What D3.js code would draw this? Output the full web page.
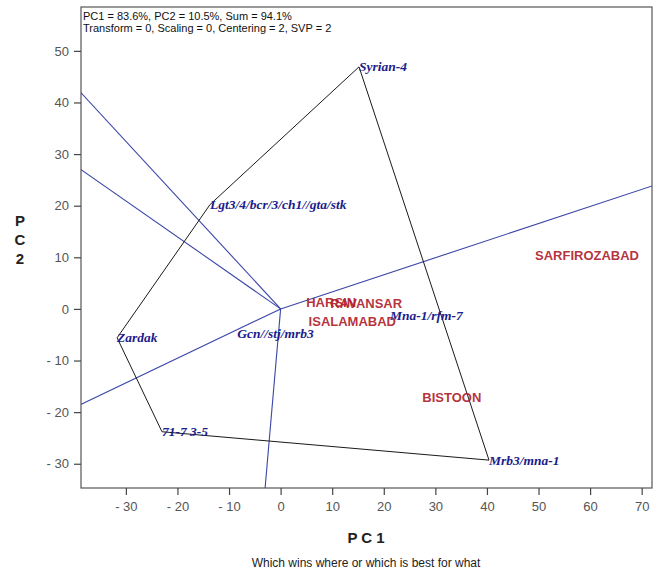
<!DOCTYPE html>
<html>
<head>
<meta charset="utf-8">
<script src="https://cdn.jsdelivr.net/npm/d3@7"></script>
<style>
  body { margin: 0; background: #fff; }
  svg { display: block; }
</style>
</head>
<body>
<svg id="chart" width="654" height="574"></svg>
<script>
// Genotype scores (PC1, PC2)
const genotypes = ["Syrian-4", "Mrb3/mna-1", "71-7 3-5", "Zardak", "Lgt3/4/bcr/3/ch1//gta/stk", "Gcn//stj/mrb3", "Mna-1/rfm-7"];
const genoPC1 = [15.2, 40.4, -23.0, -31.7, -13.7, -8.4, 21.2];
const genoPC2 = [46.9, -29.3, -23.8, -5.6, 20.2, -4.8, -1.2];

// Environment scores (PC1, PC2)
const environments = ["SARFIROZABAD", "BISTOON", "HARSIN", "RAVANSAR", "ISALAMABAD"];
const envPC1 = [59.4, 33.2, 9.8, 16.6, 13.9];
const envPC2 = [10.3, -17.1, 1.2, 1.0, -2.5];

// Convex hull vertices (indices into genotypes), in drawing order
const hull = [0, 1, 2, 3, 4];

const xTicks = [-30, -20, -10, 0, 10, 20, 30, 40, 50, 60, 70];
const yTicks = [-30, -20, -10, 0, 10, 20, 30, 40, 50];
const header = ["PC1 = 83.6%, PC2 = 10.5%, Sum = 94.1%",
                "Transform = 0, Scaling = 0, Centering = 2, SVP = 2"];

const svg = d3.select("#chart");
const L = 81, R = 652, T = 7, B = 488;
const x = d3.scaleLinear().domain([-38.7, 72.0]).range([L, R]);
const y = d3.scaleLinear().domain([-34.7, 58.5]).range([B, T]);

svg.append("defs").append("clipPath").attr("id", "plotClip")
  .append("rect").attr("x", L).attr("y", T).attr("width", R - L).attr("height", B - T);

const plot = svg.append("g").attr("clip-path", "url(#plotClip)");

// Rays from the origin, perpendicular to each side of the hull
const rays = hull.map((gi, k) => {
  const gj = hull[(k + 1) % hull.length];
  const dx = genoPC1[gj] - genoPC1[gi], dy = genoPC2[gj] - genoPC2[gi];
  // perpendicular direction pointing outward (away from the hull centre)
  let px = dy, py = -dx;
  const mx = (genoPC1[gi] + genoPC1[gj]) / 2, my = (genoPC2[gi] + genoPC2[gj]) / 2;
  if (px * mx + py * my < 0) { px = -px; py = -py; }
  const n = Math.hypot(px, py);
  return [px / n, py / n];
});

plot.selectAll("line.ray").data(rays).join("line")
  .attr("class", "ray")
  .attr("x1", x(0)).attr("y1", y(0))
  .attr("x2", d => x(d[0] * 300)).attr("y2", d => y(d[1] * 300))
  .attr("stroke", "#3a46a8").attr("stroke-width", 1.1);

// Polygon
const hullPts = hull.map(i => [x(genoPC1[i]), y(genoPC2[i])]);
plot.append("path")
  .attr("d", d3.line()(hullPts) + "Z")
  .attr("fill", "none").attr("stroke", "#1a1a1a").attr("stroke-width", 1);

// Environment labels
plot.selectAll("text.env").data(environments).join("text")
  .attr("class", "env")
  .attr("x", (d, i) => x(envPC1[i]))
  .attr("y", (d, i) => y(envPC2[i]))
  .attr("text-anchor", "middle").attr("dominant-baseline", "central")
  .attr("font-family", "Liberation Sans, Arial, sans-serif")
  .attr("font-weight", "bold").attr("font-size", 13)
  .attr("fill", "#b0202c").attr("fill-opacity", 0.92)
  .text(d => d);

// Genotype labels
plot.selectAll("text.geno").data(genotypes).join("text")
  .attr("class", "geno")
  .attr("x", (d, i) => x(genoPC1[i]))
  .attr("y", (d, i) => y(genoPC2[i]))
  .attr("dominant-baseline", "central")
  .attr("font-family", "Liberation Serif, Times New Roman, serif")
  .attr("font-weight", "bold").attr("font-style", "italic").attr("font-size", 13.5)
  .attr("fill", "#1c1c8a")
  .text(d => d);

// Header text
const hdr = svg.append("g");
header.forEach((t, i) => {
  hdr.append("text").attr("x", 83).attr("y", 20 + i * 12)
    .attr("font-family", "Liberation Sans, Arial, sans-serif").attr("font-size", 11)
    .attr("fill", "#111").text(t);
});

// Frame
svg.append("rect").attr("x", L).attr("y", T).attr("width", R - L).attr("height", B - T)
  .attr("fill", "none").attr("stroke", "#555").attr("stroke-width", 1.2);

// Axes
const xAxis = svg.append("g").attr("transform", `translate(0,${B})`)
  .call(d3.axisBottom(x).tickValues(xTicks).tickSize(7).tickPadding(7).tickFormat(d3.format("d")));
const yAxis = svg.append("g").attr("transform", `translate(${L},0)`)
  .call(d3.axisLeft(y).tickValues(yTicks).tickSize(7).tickPadding(5).tickFormat(d3.format("d")));
[xAxis, yAxis].forEach(a => {
  a.select(".domain").remove();
  a.selectAll(".tick line").attr("stroke", "#444").attr("stroke-width", 1.2);
  a.selectAll(".tick text").attr("font-family", "Liberation Sans, Arial, sans-serif")
    .attr("font-size", 13).attr("fill", "#555").text(d => d < 0 ? "- " + Math.abs(d) : d);
});

// Axis titles
svg.append("text").attr("x", 366).attr("y", 543).attr("text-anchor", "middle")
  .attr("font-family", "Liberation Sans, Arial, sans-serif").attr("font-weight", "bold")
  .attr("font-size", 15).attr("fill", "#222").text("P C 1");
["P", "C", "2"].forEach((c, i) => {
  svg.append("text").attr("x", 20).attr("y", 226 + i * 19).attr("text-anchor", "middle")
    .attr("font-family", "Liberation Sans, Arial, sans-serif").attr("font-weight", "bold")
    .attr("font-size", 15).attr("fill", "#222").text(c);
});

svg.append("text").attr("x", 366).attr("y", 567).attr("text-anchor", "middle")
  .attr("font-family", "Liberation Sans, Arial, sans-serif").attr("font-size", 12)
  .attr("fill", "#222").text("Which wins where or which is best for what");
</script>
</body>
</html>
